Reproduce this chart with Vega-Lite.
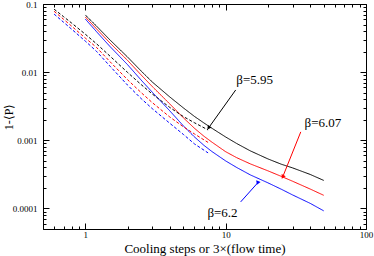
{
  "$schema": "https://vega.github.io/schema/vega-lite/v6.json",
  "width": 323,
  "height": 225,
  "autosize": {"type": "none"},
  "padding": {"left": 43, "top": 4, "right": 8, "bottom": 27},
  "background": "white",
  "config": {"view": {"stroke": null}, "font": "Liberation Serif"},
  "datasets": {
    "curves": [
      {"x": 1, "y": 0.069, "s": "5.95", "t": "solid"},
      {"x": 1.2, "y": 0.0476, "s": "5.95", "t": "solid"},
      {"x": 1.5, "y": 0.0297, "s": "5.95", "t": "solid"},
      {"x": 2, "y": 0.0167, "s": "5.95", "t": "solid"},
      {"x": 2.5, "y": 0.0104, "s": "5.95", "t": "solid"},
      {"x": 3, "y": 0.00718, "s": "5.95", "t": "solid"},
      {"x": 4, "y": 0.00433, "s": "5.95", "t": "solid"},
      {"x": 5, "y": 0.00299, "s": "5.95", "t": "solid"},
      {"x": 6, "y": 0.00224, "s": "5.95", "t": "solid"},
      {"x": 7, "y": 0.0018, "s": "5.95", "t": "solid"},
      {"x": 8, "y": 0.0015, "s": "5.95", "t": "solid"},
      {"x": 10, "y": 0.00112, "s": "5.95", "t": "solid"},
      {"x": 12, "y": 0.000897, "s": "5.95", "t": "solid"},
      {"x": 15, "y": 0.0007, "s": "5.95", "t": "solid"},
      {"x": 20, "y": 0.000534, "s": "5.95", "t": "solid"},
      {"x": 25, "y": 0.000445, "s": "5.95", "t": "solid"},
      {"x": 30, "y": 0.000394, "s": "5.95", "t": "solid"},
      {"x": 40, "y": 0.000316, "s": "5.95", "t": "solid"},
      {"x": 50, "y": 0.000258, "s": "5.95", "t": "solid"},
      {"x": 1, "y": 0.0645, "s": "6.07", "t": "solid"},
      {"x": 1.2, "y": 0.0434, "s": "6.07", "t": "solid"},
      {"x": 1.5, "y": 0.0268, "s": "6.07", "t": "solid"},
      {"x": 2, "y": 0.0149, "s": "6.07", "t": "solid"},
      {"x": 2.5, "y": 0.0091, "s": "6.07", "t": "solid"},
      {"x": 3, "y": 0.00617, "s": "6.07", "t": "solid"},
      {"x": 4, "y": 0.00342, "s": "6.07", "t": "solid"},
      {"x": 5, "y": 0.00214, "s": "6.07", "t": "solid"},
      {"x": 6, "y": 0.0015, "s": "6.07", "t": "solid"},
      {"x": 7, "y": 0.00115, "s": "6.07", "t": "solid"},
      {"x": 8, "y": 0.000938, "s": "6.07", "t": "solid"},
      {"x": 10, "y": 0.000681, "s": "6.07", "t": "solid"},
      {"x": 12, "y": 0.000556, "s": "6.07", "t": "solid"},
      {"x": 15, "y": 0.000451, "s": "6.07", "t": "solid"},
      {"x": 20, "y": 0.000357, "s": "6.07", "t": "solid"},
      {"x": 25, "y": 0.000295, "s": "6.07", "t": "solid"},
      {"x": 30, "y": 0.000251, "s": "6.07", "t": "solid"},
      {"x": 40, "y": 0.000193, "s": "6.07", "t": "solid"},
      {"x": 50, "y": 0.000156, "s": "6.07", "t": "solid"},
      {"x": 1, "y": 0.0603, "s": "6.2", "t": "solid"},
      {"x": 1.2, "y": 0.0395, "s": "6.2", "t": "solid"},
      {"x": 1.5, "y": 0.0238, "s": "6.2", "t": "solid"},
      {"x": 2, "y": 0.0129, "s": "6.2", "t": "solid"},
      {"x": 2.5, "y": 0.00766, "s": "6.2", "t": "solid"},
      {"x": 3, "y": 0.00509, "s": "6.2", "t": "solid"},
      {"x": 4, "y": 0.00271, "s": "6.2", "t": "solid"},
      {"x": 5, "y": 0.00163, "s": "6.2", "t": "solid"},
      {"x": 6, "y": 0.00112, "s": "6.2", "t": "solid"},
      {"x": 7, "y": 0.000845, "s": "6.2", "t": "solid"},
      {"x": 8, "y": 0.000683, "s": "6.2", "t": "solid"},
      {"x": 10, "y": 0.000499, "s": "6.2", "t": "solid"},
      {"x": 12, "y": 0.000399, "s": "6.2", "t": "solid"},
      {"x": 15, "y": 0.000311, "s": "6.2", "t": "solid"},
      {"x": 20, "y": 0.000238, "s": "6.2", "t": "solid"},
      {"x": 25, "y": 0.000191, "s": "6.2", "t": "solid"},
      {"x": 30, "y": 0.000158, "s": "6.2", "t": "solid"},
      {"x": 40, "y": 0.000119, "s": "6.2", "t": "solid"},
      {"x": 50, "y": 0.0000923, "s": "6.2", "t": "solid"},
      {"x": 0.6, "y": 0.0839, "s": "5.95", "t": "dashed"},
      {"x": 0.7, "y": 0.0653, "s": "5.95", "t": "dashed"},
      {"x": 0.8, "y": 0.0525, "s": "5.95", "t": "dashed"},
      {"x": 1, "y": 0.0361, "s": "5.95", "t": "dashed"},
      {"x": 1.2, "y": 0.0262, "s": "5.95", "t": "dashed"},
      {"x": 1.5, "y": 0.0172, "s": "5.95", "t": "dashed"},
      {"x": 2, "y": 0.00993, "s": "5.95", "t": "dashed"},
      {"x": 2.5, "y": 0.00658, "s": "5.95", "t": "dashed"},
      {"x": 3, "y": 0.00479, "s": "5.95", "t": "dashed"},
      {"x": 4, "y": 0.00304, "s": "5.95", "t": "dashed"},
      {"x": 5, "y": 0.00223, "s": "5.95", "t": "dashed"},
      {"x": 6, "y": 0.00181, "s": "5.95", "t": "dashed"},
      {"x": 7.5, "y": 0.00142, "s": "5.95", "t": "dashed"},
      {"x": 0.6, "y": 0.0782, "s": "6.07", "t": "dashed"},
      {"x": 0.7, "y": 0.0598, "s": "6.07", "t": "dashed"},
      {"x": 0.8, "y": 0.0473, "s": "6.07", "t": "dashed"},
      {"x": 1, "y": 0.0317, "s": "6.07", "t": "dashed"},
      {"x": 1.2, "y": 0.0232, "s": "6.07", "t": "dashed"},
      {"x": 1.5, "y": 0.01426, "s": "6.07", "t": "dashed"},
      {"x": 2, "y": 0.00776, "s": "6.07", "t": "dashed"},
      {"x": 2.5, "y": 0.00502, "s": "6.07", "t": "dashed"},
      {"x": 3, "y": 0.00358, "s": "6.07", "t": "dashed"},
      {"x": 4, "y": 0.0022, "s": "6.07", "t": "dashed"},
      {"x": 5, "y": 0.00158, "s": "6.07", "t": "dashed"},
      {"x": 6, "y": 0.00124, "s": "6.07", "t": "dashed"},
      {"x": 7.5, "y": 0.000931, "s": "6.07", "t": "dashed"},
      {"x": 0.6, "y": 0.0711, "s": "6.2", "t": "dashed"},
      {"x": 0.7, "y": 0.0541, "s": "6.2", "t": "dashed"},
      {"x": 0.8, "y": 0.0427, "s": "6.2", "t": "dashed"},
      {"x": 1, "y": 0.0286, "s": "6.2", "t": "dashed"},
      {"x": 1.2, "y": 0.0203, "s": "6.2", "t": "dashed"},
      {"x": 1.5, "y": 0.01225, "s": "6.2", "t": "dashed"},
      {"x": 2, "y": 0.00647, "s": "6.2", "t": "dashed"},
      {"x": 2.5, "y": 0.0041, "s": "6.2", "t": "dashed"},
      {"x": 3, "y": 0.00292, "s": "6.2", "t": "dashed"},
      {"x": 4, "y": 0.00178, "s": "6.2", "t": "dashed"},
      {"x": 5, "y": 0.00122, "s": "6.2", "t": "dashed"},
      {"x": 6, "y": 0.000885, "s": "6.2", "t": "dashed"},
      {"x": 7.5, "y": 0.000654, "s": "6.2", "t": "dashed"}
    ],
    "labels": [
      {"x": 16.1, "y": 0.00769, "label": "β=5.95"},
      {"x": 49.3, "y": 0.0018, "label": "β=6.07"},
      {"x": 9.5, "y": 0.000086, "label": "β=6.2"}
    ],
    "arrows": [
      {"x": 11.8, "y": 0.00548, "x2": 7.56, "y2": 0.00152, "s": "5.95"},
      {"x": 34.3, "y": 0.00133, "x2": 25.5, "y2": 0.00029, "s": "6.07"},
      {"x": 12.8, "y": 0.000125, "x2": 16.9, "y2": 0.000237, "s": "6.2"}
    ]
  },
  "layer": [
    {
      "data": {"name": "curves"},
      "mark": {"type": "line", "strokeWidth": 1, "clip": true},
      "encoding": {
        "x": {
          "field": "x", "type": "quantitative",
          "scale": {"type": "log", "domain": [0.5, 100], "nice": false},
          "axis": {
            "orient": "bottom",
            "values": [0.5, 0.6, 0.7, 0.8, 0.9, 1, 2, 3, 4, 5, 6, 7, 8, 9, 10, 20, 30, 40, 50, 60, 70, 80, 90, 100],
            "format": "~g",
            "labelExpr": "indexof([1,10,100], datum.value) >= 0 ? datum.label : ''",
            "tickSize": {"condition": {"test": "indexof([1,10,100], datum.value) >= 0", "value": -6}, "value": -3},
            "labelPadding": 7,
            "labelOverlap": false,
            "labelFlush": false,
            "labelFontSize": 9,
            "labelFont": "Liberation Serif",
            "labelColor": "black",
            "grid": false,
            "domainColor": "black",
            "tickColor": "black",
            "title": "Cooling steps or 3×(flow time)",
            "titleFont": "Liberation Serif",
            "titleFontSize": 13,
            "titleFontWeight": "normal",
            "titleColor": "black",
            "titlePadding": 0
          }
        },
        "y": {
          "field": "y", "type": "quantitative",
          "scale": {"type": "log", "domain": [0.00005, 0.1], "nice": false},
          "axis": {
            "orient": "left",
            "values": [0.00005, 0.00006, 0.00007, 0.00008, 0.00009, 0.0001, 0.0002, 0.0003, 0.0004, 0.0005, 0.0006, 0.0007, 0.0008, 0.0009, 0.001, 0.002, 0.003, 0.004, 0.005, 0.006, 0.007, 0.008, 0.009, 0.01, 0.02, 0.03, 0.04, 0.05, 0.06, 0.07, 0.08, 0.09, 0.1],
            "format": "~g",
            "labelExpr": "indexof([0.0001,0.001,0.01,0.1], datum.value) >= 0 ? datum.label : ''",
            "tickSize": {"condition": {"test": "indexof([0.0001,0.001,0.01,0.1], datum.value) >= 0", "value": -6}, "value": -3},
            "labelPadding": 12,
            "labelOverlap": false,
            "labelFlush": false,
            "labelFontSize": 9,
            "labelFont": "Liberation Serif",
            "labelColor": "black",
            "grid": false,
            "domainColor": "black",
            "tickColor": "black",
            "title": "1-⟨P⟩",
            "titleFont": "Liberation Serif",
            "titleFontSize": 12,
            "titleFontWeight": "normal",
            "titleColor": "black",
            "titlePadding": -3
          }
        },
        "color": {
          "field": "s", "type": "nominal",
          "scale": {"domain": ["5.95", "6.07", "6.2"], "range": ["#000000", "#ff0000", "#0000ff"]},
          "legend": null
        },
        "strokeDash": {
          "field": "t", "type": "nominal",
          "scale": {"domain": ["solid", "dashed"], "range": [[1, 0], [3, 2]]},
          "legend": null
        }
      }
    },
    {
      "data": {"name": "labels"},
      "mark": {"type": "text", "font": "Liberation Serif", "fontSize": 13, "color": "black"},
      "encoding": {
        "x": {
          "field": "x", "type": "quantitative",
          "axis": {
            "orient": "top",
            "values": [0.5, 0.6, 0.7, 0.8, 0.9, 1, 2, 3, 4, 5, 6, 7, 8, 9, 10, 20, 30, 40, 50, 60, 70, 80, 90, 100],
            "labels": false,
            "tickSize": {"condition": {"test": "indexof([1,10,100], datum.value) >= 0", "value": -6}, "value": -3},
            "grid": false,
            "domainColor": "black",
            "tickColor": "black",
            "title": null
          }
        },
        "y": {
          "field": "y", "type": "quantitative",
          "axis": {
            "orient": "right",
            "values": [0.00005, 0.00006, 0.00007, 0.00008, 0.00009, 0.0001, 0.0002, 0.0003, 0.0004, 0.0005, 0.0006, 0.0007, 0.0008, 0.0009, 0.001, 0.002, 0.003, 0.004, 0.005, 0.006, 0.007, 0.008, 0.009, 0.01, 0.02, 0.03, 0.04, 0.05, 0.06, 0.07, 0.08, 0.09, 0.1],
            "labels": false,
            "tickSize": {"condition": {"test": "indexof([0.0001,0.001,0.01,0.1], datum.value) >= 0", "value": -6}, "value": -3},
            "grid": false,
            "domainColor": "black",
            "tickColor": "black",
            "title": null
          }
        },
        "text": {"field": "label", "type": "nominal"}
      }
    },
    {
      "data": {"name": "arrows"},
      "mark": {"type": "rule", "strokeWidth": 1},
      "encoding": {
        "x": {"field": "x", "type": "quantitative", "axis": null},
        "y": {"field": "y", "type": "quantitative", "axis": null},
        "x2": {"field": "x2"},
        "y2": {"field": "y2"},
        "color": {"field": "s", "type": "nominal", "legend": null}
      }
    },
    {
      "data": {"name": "arrows"},
      "mark": {"type": "point", "shape": "triangle-up", "filled": true, "size": 22, "opacity": 1},
      "encoding": {
        "x": {"field": "x2", "type": "quantitative", "axis": null},
        "y": {"field": "y2", "type": "quantitative", "axis": null},
        "color": {"field": "s", "type": "nominal", "legend": null},
        "angle": {
          "field": "s", "type": "nominal",
          "scale": {"domain": ["5.95", "6.07", "6.2"], "range": [215, 202, 42]},
          "legend": null
        }
      }
    }
  ],
  "resolve": {"axis": {"x": "independent", "y": "independent"}}
}
